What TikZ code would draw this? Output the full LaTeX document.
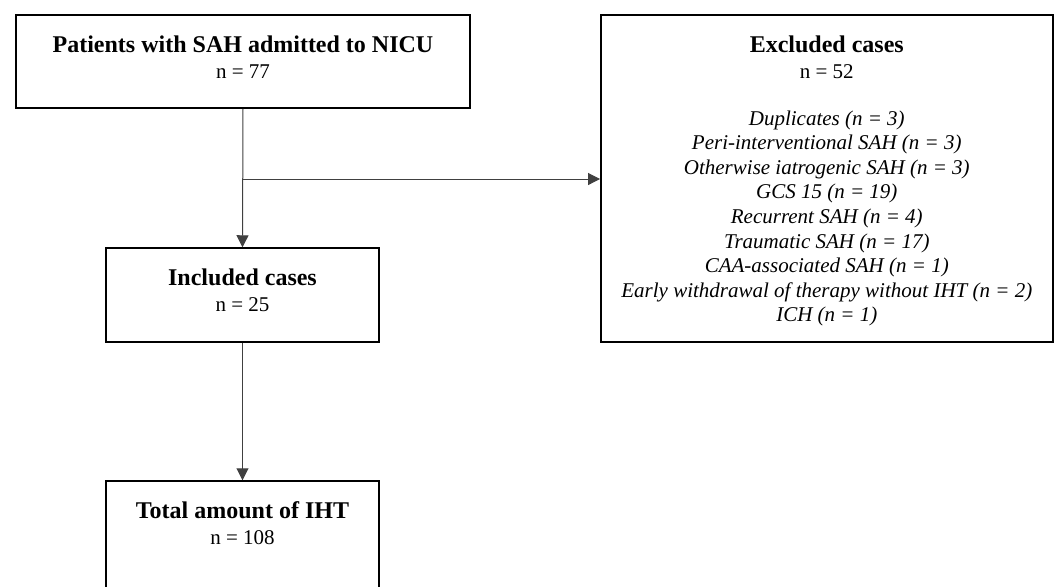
\documentclass[tikz,border=0pt]{standalone}
\usepackage{fontspec}
\setmainfont{Liberation Serif}
\usetikzlibrary{arrows.meta}

\tikzset{
  box/.style={draw,line width=0.75pt,inner sep=0pt},
  link/.style={draw=black!75,line width=0.5pt,-{Triangle[length=6pt,width=6pt]}}
}
\newcommand{\boxtext}[3]{\parbox[t][#2][t]{#1}{\centering\fontsize{10.5}{12.3}\selectfont\rule{0pt}{18.5pt}#3}}
\newcommand{\boxhead}[1]{{\fontsize{12}{12.3}\selectfont\textbf{#1}}}

\begin{document}
\begin{tikzpicture}[x=0.5pt,y=-0.5pt]
   \clip (0,0) rectangle (1057,586);
   \node[box] (adm) at (243,61.5) {\boxtext{227pt}{46.5pt}{\boxhead{Patients with SAH admitted to NICU}\\[0.7pt] n = 77}};
   \node[box] (excl) at (826.8,178.5) {\boxtext{226pt}{163.5pt}{\boxhead{Excluded cases}\\[0.7pt] n = 52\\[11.2pt]
      \textit{Duplicates (n = 3)}\\
      \textit{Peri-interventional SAH (n = 3)}\\
      \textit{Otherwise iatrogenic SAH (n = 3)}\\
      \textit{GCS 15 (n = 19)}\\
      \textit{Recurrent SAH (n = 4)}\\
      \textit{Traumatic SAH (n = 17)}\\
      \textit{CAA-associated SAH (n = 1)}\\
      \textit{Early withdrawal of therapy without IHT (n = 2)}\\
      \textit{ICH (n = 1)}}};
   \node[box] (incl) at (242.5,295) {\boxtext{136.5pt}{47pt}{\boxhead{Included cases}\\[0.7pt] n = 25}};
   \node[box] (iht) at (242.5,541) {\boxtext{136.5pt}{60pt}{\boxhead{Total amount of IHT}\\[0.7pt] n = 108}};
   \coordinate (j) at (243,179);

   \path[link] (adm.south) -- (incl.north);
   \path[link] (j) -- (j -| excl.west);
   \path[link] (incl.south) -- (iht.north);
\end{tikzpicture}
\end{document}
